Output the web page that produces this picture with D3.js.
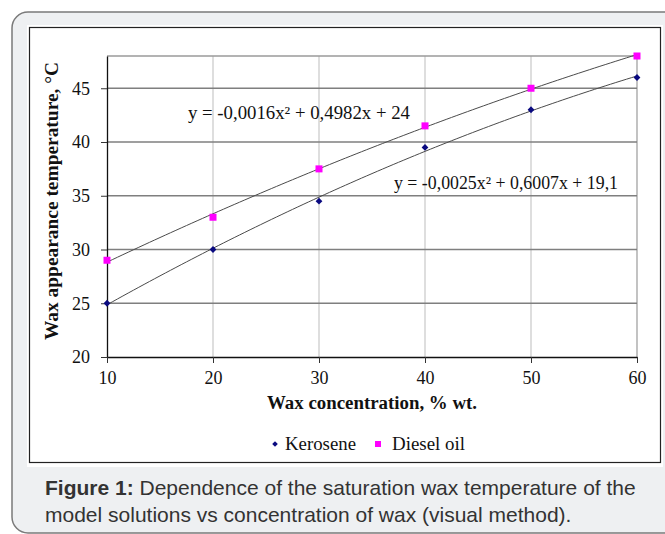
<!DOCTYPE html>
<html><head><meta charset="utf-8">
<script src="https://cdn.jsdelivr.net/npm/d3@7"></script>
<style>html,body{margin:0;padding:0;background:#fff;}svg{display:block;}</style>
</head><body>
<script>
const concentrations = [10, 20, 30, 40, 50, 60];
const keroseneValues = [25, 30, 34.5, 39.5, 43, 46];
const dieselValues = [29, 33, 37.5, 41.5, 45, 48];
const keroseneCoef = [-0.0025, 0.6007, 19.1];
const dieselCoef = [-0.0016, 0.4982, 24];
const yTicks = [20, 25, 30, 35, 40, 45];
const xTicks = [10, 20, 30, 40, 50, 60];
const seriesNames = ["Kerosene", "Diesel oil"];
const eqDiesel = "y = -0,0016x² + 0,4982x + 24";
const eqKerosene = "y = -0,0025x² + 0,6007x + 19,1";

const W = 665, H = 534;
const svg = d3.select("body").append("svg").attr("width", W).attr("height", H);

// outer panel
svg.append("rect").attr("x", 12).attr("y", 12).attr("width", 700).attr("height", 521)
  .attr("rx", 16).attr("fill", "#eef0f2").attr("stroke", "#7a7a7a").attr("stroke-width", 1.5);
svg.append("rect").attr("x", 27).attr("y", 25).attr("width", 636).attr("height", 442).attr("fill", "#fff");
svg.append("rect").attr("x", 29.5).attr("y", 27.5).attr("width", 631).attr("height", 435)
  .attr("fill", "none").attr("stroke", "#222").attr("stroke-width", 1.2);

const x = d3.scaleLinear().domain([10, 60]).range([107, 637]);
const y = d3.scaleLinear().domain([20, 48]).range([357, 56]);

const serif = "'Liberation Serif','Times New Roman',serif";
const g = svg.append("g");

// vertical gridlines
g.selectAll(".vg").data(xTicks.slice(1)).enter().append("line")
  .attr("x1", d => x(d)).attr("x2", d => x(d)).attr("y1", y(48)).attr("y2", y(20))
  .attr("stroke", d => d === 60 ? "#9a9a9a" : "#c8c8c8").attr("stroke-width", 1.2);
// horizontal gridlines
g.selectAll(".hg").data(yTicks.slice(1).concat([48])).enter().append("line")
  .attr("x1", x(10)).attr("x2", x(60)).attr("y1", d => y(d)).attr("y2", d => y(d))
  .attr("stroke", d => d === 48 ? "#9a9a9a" : "#7f7f7f").attr("stroke-width", 1.4);

// axes
const yAxis = d3.axisLeft(y).tickValues(yTicks).tickSizeInner(6).tickSizeOuter(0).tickPadding(11);
const xAxis = d3.axisBottom(x).tickValues(xTicks).tickSizeInner(6).tickSizeOuter(0).tickPadding(8);
const ya = svg.append("g").attr("transform", `translate(${x(10)},0)`).call(yAxis);
const xa = svg.append("g").attr("transform", `translate(0,${y(20)})`).call(xAxis);
[ya, xa].forEach(a => {
  a.select(".domain").attr("stroke", "#111").attr("stroke-width", 1.3);
  a.selectAll(".tick line").attr("stroke", "#333");
  a.selectAll("text").attr("font-family", serif).attr("font-size", 18).attr("fill", "#111");
});

// trendlines
const fine = d3.range(10, 60.01, 0.5);
const poly = c => v => c[0] * v * v + c[1] * v + c[2];
const line = d3.line().x(d => x(d[0])).y(d => y(d[1]));
[dieselCoef, keroseneCoef].forEach(c => {
  const f = poly(c);
  svg.append("path").datum(fine.map(v => [v, f(v)])).attr("d", line)
    .attr("fill", "none").attr("stroke", "#4a4a4a").attr("stroke-width", 1);
});

// markers
const kData = concentrations.map((c, i) => [c, keroseneValues[i]]);
const dData = concentrations.map((c, i) => [c, dieselValues[i]]);
svg.selectAll(".k").data(kData).enter().append("rect")
  .attr("x", -2.4).attr("y", -2.4).attr("width", 4.8).attr("height", 4.8)
  .attr("transform", d => `translate(${x(d[0])},${y(d[1])}) rotate(45)`).attr("fill", "#0a0a80");
svg.selectAll(".dd").data(dData).enter().append("rect")
  .attr("x", d => x(d[0]) - 3.5).attr("y", d => y(d[1]) - 3.5).attr("width", 7).attr("height", 7)
  .attr("fill", "#ff00ff");

// equations
svg.append("text").attr("x", 188).attr("y", 119).attr("font-family", serif).attr("font-size", 18)
  .attr("fill", "#111").attr("textLength", 222).attr("lengthAdjust", "spacingAndGlyphs").text(eqDiesel);
svg.append("text").attr("x", 394).attr("y", 189).attr("font-family", serif).attr("font-size", 18)
  .attr("fill", "#111").attr("textLength", 224).attr("lengthAdjust", "spacingAndGlyphs").text(eqKerosene);

// axis titles
svg.append("text").attr("x", 372).attr("y", 409).attr("text-anchor", "middle")
  .attr("font-family", serif).attr("font-size", 18).attr("font-weight", "bold").attr("fill", "#111")
  .attr("textLength", 210).attr("lengthAdjust", "spacingAndGlyphs")
  .text("Wax concentration, % wt.");
svg.append("text").attr("transform", "translate(58,201) rotate(-90)").attr("text-anchor", "middle")
  .attr("font-family", serif).attr("font-size", 18).attr("font-weight", "bold").attr("fill", "#111")
  .attr("textLength", 278).attr("lengthAdjust", "spacingAndGlyphs")
  .text("Wax appearance temperature, °C");

// legend
svg.append("rect").attr("x", -2).attr("y", -2).attr("width", 4).attr("height", 4)
  .attr("transform", "translate(275,444) rotate(45)").attr("fill", "#0a0a80");
svg.append("text").attr("x", 285).attr("y", 450).attr("font-family", serif).attr("font-size", 18).attr("fill", "#111")
  .attr("textLength", 71).attr("lengthAdjust", "spacingAndGlyphs").text(seriesNames[0]);
svg.append("rect").attr("x", 375).attr("y", 441).attr("width", 6).attr("height", 6).attr("fill", "#ff00ff");
svg.append("text").attr("x", 392).attr("y", 450).attr("font-family", serif).attr("font-size", 18).attr("fill", "#111")
  .attr("textLength", 73).attr("lengthAdjust", "spacingAndGlyphs").text(seriesNames[1]);

// caption
const sans = "'Liberation Sans',Arial,sans-serif";
const cap = svg.append("text").attr("x", 45).attr("y", 495).attr("font-family", sans).attr("font-size", 21).attr("fill", "#333");
cap.append("tspan").attr("font-weight", "bold").text("Figure 1:");
cap.append("tspan").text(" Dependence of the saturation wax temperature of the");
svg.append("text").attr("x", 45).attr("y", 522).attr("font-family", sans).attr("font-size", 21).attr("fill", "#333")
  .text("model solutions vs concentration of wax (visual method).");
</script>
</body></html>
